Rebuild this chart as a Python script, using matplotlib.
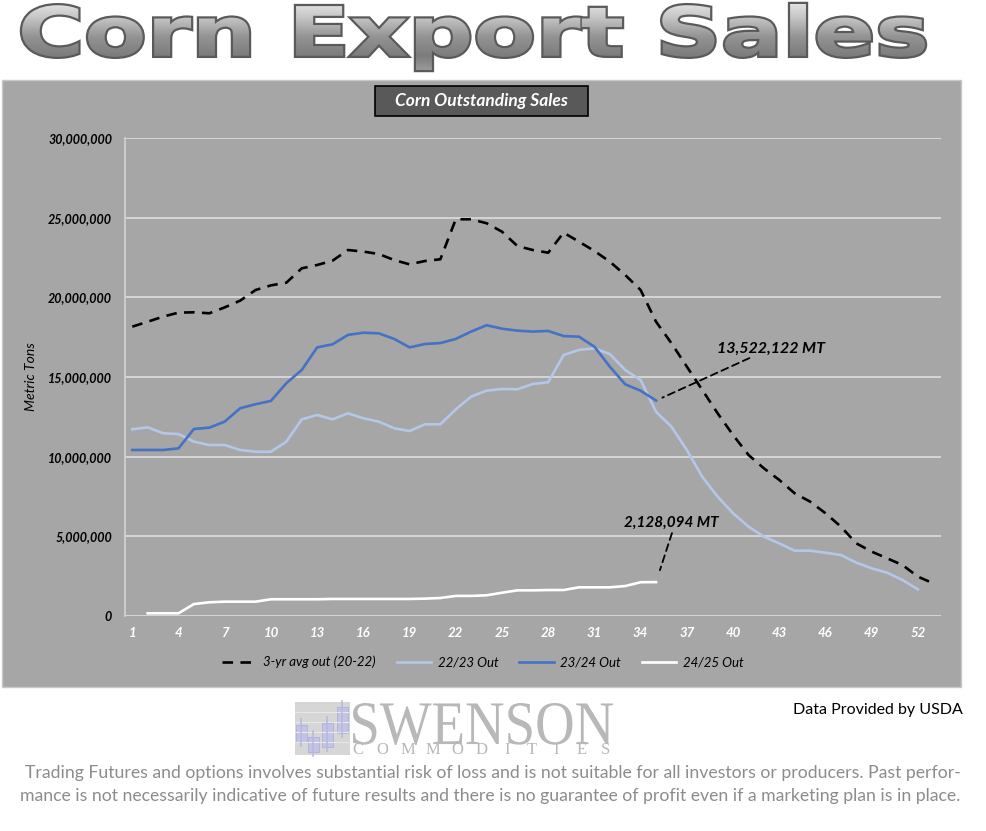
import numpy as np
import matplotlib
matplotlib.use('Agg')
from matplotlib import pyplot as plt
from matplotlib.textpath import TextPath
from matplotlib.font_manager import FontProperties
from matplotlib.path import Path
from matplotlib.patches import PathPatch, Rectangle
from matplotlib.colors import LinearSegmentedColormap
from matplotlib.ticker import FuncFormatter

# weekly outstanding sales, million metric tons
weeks = np.arange(1, 54)
avg_3yr = [18.16, 18.47, 18.79, 19.04, 19.06, 19.00, 19.37, 19.79, 20.46, 20.75,
           20.92, 21.82, 22.03, 22.30, 22.97, 22.87, 22.72, 22.34, 22.07, 22.28,
           22.39, 24.90, 24.90, 24.65, 24.12, 23.22, 22.97, 22.80, 24.06, 23.49,
           22.91, 22.24, 21.40, 20.46, 18.47, 17.12, 15.65, 14.19, 12.72, 11.36,
           10.11, 9.27, 8.54, 7.70, 7.18, 6.45, 5.61, 4.56, 4.04, 3.62,
           3.20, 2.47, 2.05]
out_22_23 = [11.72, 11.84, 11.47, 11.42, 10.94, 10.73, 10.73, 10.42, 10.31, 10.31,
             10.94, 12.34, 12.62, 12.34, 12.72, 12.41, 12.20, 11.78, 11.61, 12.03,
             12.03, 12.97, 13.77, 14.14, 14.25, 14.23, 14.56, 14.67, 16.38, 16.70,
             16.80, 16.44, 15.44, 14.81, 12.82, 11.88, 10.42, 8.74, 7.49, 6.45,
             5.61, 4.98, 4.56, 4.10, 4.10, 3.97, 3.83, 3.35, 2.99, 2.72,
             2.26, 1.67]
out_23_24 = [10.42, 10.42, 10.42, 10.52, 11.74, 11.82, 12.20, 13.04, 13.29, 13.50,
             14.61, 15.44, 16.86, 17.05, 17.64, 17.78, 17.74, 17.39, 16.86, 17.07,
             17.13, 17.39, 17.85, 18.25, 18.03, 17.91, 17.85, 17.89, 17.57, 17.53,
             16.90, 15.65, 14.54, 14.14, 13.522122]
out_24_25 = [np.nan, 0.17, 0.17, 0.17, 0.75, 0.86, 0.90, 0.90, 0.90, 1.05,
             1.05, 1.05, 1.05, 1.07, 1.07, 1.07, 1.07, 1.07, 1.07, 1.09,
             1.13, 1.26, 1.26, 1.30, 1.46, 1.61, 1.61, 1.63, 1.63, 1.80,
             1.80, 1.80, 1.88, 2.12, 2.128094]
series_names = ['3-yr avg out (20-22)', '22/23 Out', '23/24 Out', '24/25 Out']
x_ticks = list(range(1, 53, 3))
y_ticks = [0, 5e6, 10e6, 15e6, 20e6, 25e6, 30e6]

W, H = 986, 831
FONT = 'Lato'

fig = plt.figure(figsize=(W / 100, H / 100), dpi=100)
fig.patch.set_facecolor('white')

# overlay in pixel coordinates for panel, title and logo
ov = fig.add_axes([0, 0, 1, 1], zorder=0)
ov.set_xlim(0, W)
ov.set_ylim(H, 0)
ov.axis('off')


def fit_text(s, box, prop, **kw):
    tp = TextPath((0, 0), s, size=1, prop=prop)
    ext = tp.get_extents()
    x0, y0, x1, y1 = box
    sx = (x1 - x0) / ext.width
    sy = (y1 - y0) / ext.height
    v = tp.vertices.copy()
    v[:, 0] = x0 + (v[:, 0] - ext.x0) * sx
    v[:, 1] = y1 - (v[:, 1] - ext.y0) * sy
    p = PathPatch(Path(v, tp.codes), **kw)
    ov.add_patch(p)
    return p


# gray chart panel
ov.add_patch(Rectangle((2, 80), 959, 607, facecolor='#a6a6a6', edgecolor='#c8c8c8', lw=1))

# big silver title
title_box = (22, 4, 925, 70)
title_prop = FontProperties(family='DejaVu Sans', weight='heavy')
fit_text('Corn Export Sales', title_box, title_prop,
         facecolor='none', edgecolor='#5a5a5a', lw=3.2, zorder=1.5)
tpatch = fit_text('Corn Export Sales', title_box, title_prop,
                  facecolor='none', edgecolor='none', lw=0, zorder=3)
silver = LinearSegmentedColormap.from_list('silver', ['#ececec', '#c4c4c4', '#939393', '#7c7c7c', '#a4a4a4'])
im = ov.imshow(np.linspace(0, 1, 256).reshape(-1, 1), cmap=silver, aspect='auto',
               extent=(title_box[0] - 5, title_box[2] + 5, title_box[3] + 5, title_box[1] - 5), zorder=2)
im.set_clip_path(tpatch)
ov.set_xlim(0, W)
ov.set_ylim(H, 0)

# chart title box
ov.add_patch(Rectangle((375, 86), 213, 30, facecolor='#595959', edgecolor='black', lw=1.2))
ov.text(481.5, 101, 'Corn Outstanding Sales', color='white', fontsize=12.5, family=FONT,
        weight='bold', style='italic', ha='center', va='center')

# logo
ov.add_patch(Rectangle((295, 702), 55, 53, facecolor='#d6d6d6', edgecolor='none'))
for gy in [712, 722, 732, 742]:
    ov.plot([295, 350], [gy, gy], color='#e8e8e8', lw=0.8)
candles = [(296, 725, 742), (308, 737, 752), (322, 723, 747), (337, 707, 733)]
for cx, top, bot in candles:
    ov.plot([cx + 5, cx + 5], [top - 6, bot + 4], color='#b9b9de', lw=1.2)
    ov.add_patch(Rectangle((cx, top), 11, bot - top, facecolor='#c3c3e6', edgecolor='#b0b0d8', lw=0.6))
fit_text('SWENSON', (353, 703, 613, 745), FontProperties(family='Liberation Serif'),
         facecolor='#b8b8b8', edgecolor='none')
for i, ch in enumerate('COMMODITIES'):
    ov.text(358 + i * 24.8, 750, ch, color='#b8b8b8', fontsize=12, family='Liberation Serif',
            ha='center', va='center')

ov.text(878, 710, 'Data Provided by USDA', color='black', fontsize=11.5, family=FONT,
        ha='center', va='center')
ov.text(493, 773, 'Trading Futures and options involves substantial risk of loss and is not '
        'suitable for all investors or producers. Past perfor-', color='#8c8c8c', fontsize=12.7,
        family=FONT, ha='center', va='center')
ov.text(490, 796, 'mance is not necessarily indicative of future results and there is no '
        'guarantee of profit even if a marketing plan is in place.', color='#8c8c8c', fontsize=12.7,
        family=FONT, ha='center', va='center')

# main chart
ax = fig.add_axes([124.6 / W, 1 - 616 / H, (941 - 124.6) / W, (616 - 138) / H], zorder=1)
ax.patch.set_alpha(0)

m = 1e6
ax.plot(weeks, np.array(avg_3yr) * m, color='black', lw=1.9, ls=(0, (4, 2.8)), label=series_names[0], zorder=3)
ax.plot(weeks[:len(out_22_23)], np.array(out_22_23) * m, color='#b4c7e7', lw=1.9, label=series_names[1], zorder=2)
ax.plot(weeks[:len(out_23_24)], np.array(out_23_24) * m, color='#4472c4', lw=1.9, label=series_names[2], zorder=2)
ax.plot(weeks[:len(out_24_25)], np.array(out_24_25) * m, color='white', lw=1.9, label=series_names[3], zorder=2)

ax.set_xlim(0.5, 53.5)
ax.set_ylim(0, 30e6)
ax.set_xticks(x_ticks)
ax.set_yticks(y_ticks)
ax.yaxis.set_major_formatter(FuncFormatter(lambda v, p: f'{v:,.0f}'))
ax.grid(axis='y', color='#d9d9d9', lw=1.3)
ax.set_axisbelow(True)
for s in ['top', 'right', 'bottom']:
    ax.spines[s].set_visible(False)
ax.spines['left'].set_color('#d0d0d0')
ax.spines['left'].set_linewidth(1.3)
ax.tick_params(axis='both', length=0)
ax.tick_params(axis='y', pad=9)
ax.tick_params(axis='x', pad=8)
for t in ax.get_yticklabels():
    t.set(family=FONT, weight='bold', style='italic', fontsize=9, color='black')
for t in ax.get_xticklabels():
    t.set(family=FONT, weight='bold', style='italic', fontsize=9.5, color='white')
ax.set_ylabel('Metric Tons', family=FONT, style='italic', fontsize=10, color='black')
ax.yaxis.set_label_coords(-(124.6 - 37) / (941 - 124.6), 0.5)

# callouts
ax.annotate('13,522,122 MT', xy=(35, out_23_24[34] * m), xytext=(38.95, 16.8e6),
            fontsize=11.5, family=FONT, weight='bold', style='italic', va='center', ha='left',
            arrowprops=dict(arrowstyle='-', color='black', lw=1.3, ls=(0, (4, 2.5)),
                            shrinkA=0, shrinkB=5))
ax.annotate('2,128,094 MT', xy=(35, out_24_25[34] * m), xytext=(32.9, 5.82e6),
            fontsize=11, family=FONT, weight='bold', style='italic', va='center', ha='left',
            arrowprops=dict(arrowstyle='-', color='black', lw=1.3, ls=(0, (4, 2.5)),
                            shrinkA=0, shrinkB=9, relpos=(0.52, 0)))

handles, labels = ax.get_legend_handles_labels()
leg = fig.legend(handles, labels, loc='center', bbox_to_anchor=(483 / W, 1 - 662 / H), ncol=4,
                 frameon=False, handlelength=2.6, columnspacing=1.6, handletextpad=0.5,
                 prop=FontProperties(family=FONT, style='italic', size=9.5))

fig.savefig('out.png', dpi=100)
